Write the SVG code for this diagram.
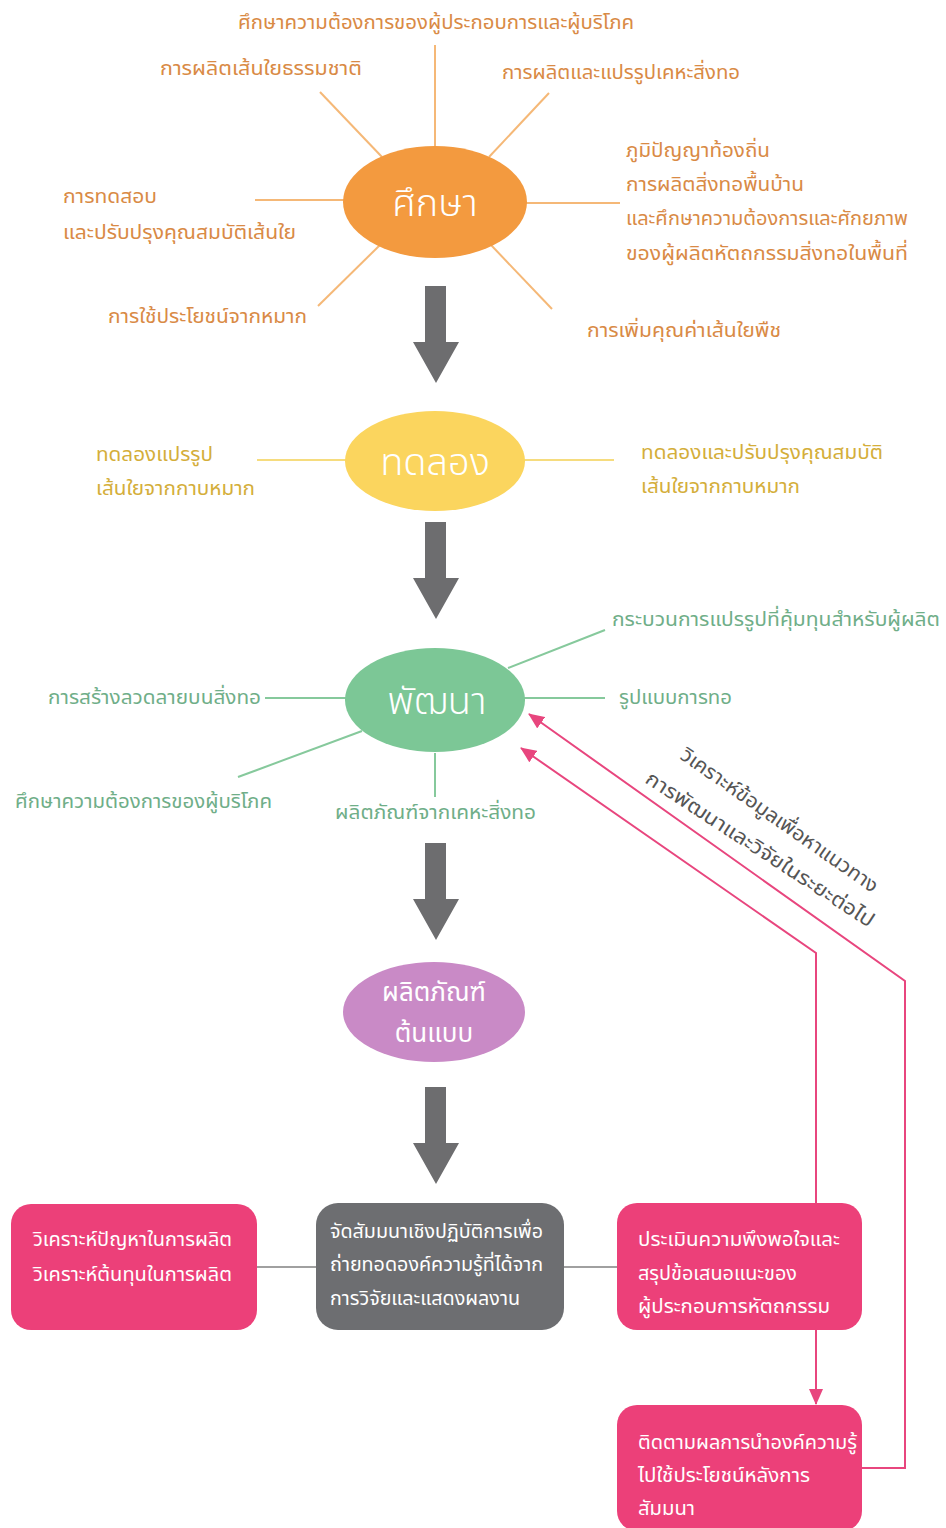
<svg xmlns="http://www.w3.org/2000/svg" width="946" height="1528" viewBox="0 0 946 1528">
<defs>
<style>
text{font-family:"Noto Sans Thai","Noto Sans","DejaVu Sans",sans-serif;}
.o{fill:#D98A45;font-size:20px;}
.y{fill:#D4AE3A;font-size:20px;}
.g{fill:#6FAE88;font-size:20px;}
.w{fill:#ffffff;font-size:19px;}
.big{fill:#ffffff;font-size:38px;font-weight:300;}
.mid{fill:#ffffff;font-size:26px;}
.rot{fill:#555555;font-size:20px;}
.lo{stroke:#F5B877;stroke-width:2;fill:none;}
.ly{stroke:#F6DC7E;stroke-width:2;fill:none;}
.lg{stroke:#86C99C;stroke-width:2;fill:none;}
.lp{stroke:#E8467E;stroke-width:2;fill:none;}
.lgr{stroke:#A0A0A0;stroke-width:2;fill:none;}
.arr{fill:#6D6D6F;}
</style>
<marker id="pa" viewBox="0 0 16 14" refX="15" refY="7" markerWidth="16" markerHeight="14" markerUnits="userSpaceOnUse" orient="auto">
<path d="M0,0 L16,7 L0,14 Z" fill="#E8467E"/>
</marker>
</defs>
<rect width="946" height="1528" fill="#ffffff"/>

<g id="connectors">
<line class="lo" x1="435" y1="45" x2="435" y2="146"/>
<line class="lo" x1="320" y1="92" x2="382" y2="157"/>
<line class="lo" x1="549" y1="93" x2="489" y2="157"/>
<line class="lo" x1="255" y1="200" x2="344" y2="200"/>
<line class="lo" x1="526" y1="203" x2="620" y2="203"/>
<line class="lo" x1="380" y1="245" x2="318" y2="306"/>
<line class="lo" x1="491" y1="245" x2="552" y2="309"/>
<line class="ly" x1="257" y1="460" x2="346" y2="460"/>
<line class="ly" x1="524" y1="460" x2="614" y2="460"/>
<line class="lg" x1="508" y1="668" x2="605" y2="630"/>
<line class="lg" x1="265" y1="698" x2="346" y2="698"/>
<line class="lg" x1="524" y1="698" x2="605" y2="698"/>
<line class="lg" x1="362" y1="731" x2="238" y2="777"/>
<line class="lg" x1="435" y1="753" x2="435" y2="797"/>
<path class="arr" d="M425,286 H446 V342 H459 L436,383 L413,342 H425 Z"/>
<path class="arr" d="M425,522 H446 V578 H459 L436,619 L413,578 H425 Z"/>
<path class="arr" d="M425,843 H446 V899 H459 L436,940 L413,899 H425 Z"/>
<path class="arr" d="M425,1087 H446 V1143 H459 L436,1184 L413,1143 H425 Z"/>
<line class="lgr" x1="257" y1="1267" x2="317" y2="1267"/>
<line class="lgr" x1="563" y1="1267" x2="618" y2="1267"/>
<polyline class="lp" points="816,1204 816,953 521,748" marker-end="url(#pa)"/>
<polyline class="lp" points="862,1468 905,1468 905,981 529,714" marker-end="url(#pa)"/>
<line class="lp" x1="816" y1="1330" x2="816" y2="1404" marker-end="url(#pa)"/>
<text class="rot" transform="translate(679,758) rotate(35)" textLength="236" lengthAdjust="spacingAndGlyphs">วิเคราะห์ข้อมูลเพื่อหาแนวทาง</text>
<text class="rot" transform="translate(644,782) rotate(33)" textLength="268" lengthAdjust="spacingAndGlyphs">การพัฒนาและวิจัยในระยะต่อไป</text>
</g>

<g id="study">
<ellipse cx="435" cy="202" rx="92" ry="56" fill="#F39A3F"/>
<text class="big" x="435" y="216" text-anchor="middle">ศึกษา</text>
<text class="o" x="238" y="29" textLength="396" lengthAdjust="spacingAndGlyphs">ศึกษาความต้องการของผู้ประกอบการและผู้บริโภค</text>
<text class="o" x="160" y="75" textLength="202" lengthAdjust="spacingAndGlyphs">การผลิตเส้นใยธรรมชาติ</text>
<text class="o" x="502" y="79" textLength="238" lengthAdjust="spacingAndGlyphs">การผลิตและแปรรูปเคหะสิ่งทอ</text>
<text class="o" x="626" y="157" textLength="144" lengthAdjust="spacingAndGlyphs">ภูมิปัญญาท้องถิ่น</text>
<text class="o" x="626" y="191" textLength="178" lengthAdjust="spacingAndGlyphs">การผลิตสิ่งทอพื้นบ้าน</text>
<text class="o" x="626" y="225" textLength="282" lengthAdjust="spacingAndGlyphs">และศึกษาความต้องการและศักยภาพ</text>
<text class="o" x="626" y="260" textLength="282" lengthAdjust="spacingAndGlyphs">ของผู้ผลิตหัตถกรรมสิ่งทอในพื้นที่</text>
<text class="o" x="63" y="203" textLength="94" lengthAdjust="spacingAndGlyphs">การทดสอบ</text>
<text class="o" x="63" y="239" textLength="233" lengthAdjust="spacingAndGlyphs">และปรับปรุงคุณสมบัติเส้นใย</text>
<text class="o" x="108" y="323" textLength="199" lengthAdjust="spacingAndGlyphs">การใช้ประโยชน์จากหมาก</text>
<text class="o" x="587" y="337" textLength="194" lengthAdjust="spacingAndGlyphs">การเพิ่มคุณค่าเส้นใยพืช</text>
</g>

<g id="experiment">
<ellipse cx="435" cy="461" rx="90" ry="50" fill="#FBD55E"/>
<text class="big" x="435" y="475" text-anchor="middle">ทดลอง</text>
<text class="y" x="96" y="461" textLength="117" lengthAdjust="spacingAndGlyphs">ทดลองแปรรูป</text>
<text class="y" x="96" y="495" textLength="159" lengthAdjust="spacingAndGlyphs">เส้นใยจากกาบหมาก</text>
<text class="y" x="641" y="459" textLength="242" lengthAdjust="spacingAndGlyphs">ทดลองและปรับปรุงคุณสมบัติ</text>
<text class="y" x="641" y="493" textLength="159" lengthAdjust="spacingAndGlyphs">เส้นใยจากกาบหมาก</text>
</g>

<g id="develop">
<ellipse cx="435" cy="700" rx="90" ry="52" fill="#7CC796"/>
<text class="big" x="437" y="714" text-anchor="middle">พัฒนา</text>
<text class="g" x="612" y="626" textLength="328" lengthAdjust="spacingAndGlyphs">กระบวนการแปรรูปที่คุ้มทุนสำหรับผู้ผลิต</text>
<text class="g" x="48" y="704" textLength="213" lengthAdjust="spacingAndGlyphs">การสร้างลวดลายบนสิ่งทอ</text>
<text class="g" x="619" y="704" textLength="113" lengthAdjust="spacingAndGlyphs">รูปแบบการทอ</text>
<text class="g" x="15" y="808" textLength="257" lengthAdjust="spacingAndGlyphs">ศึกษาความต้องการของผู้บริโภค</text>
<text class="g" x="335" y="819" textLength="201" lengthAdjust="spacingAndGlyphs">ผลิตภัณฑ์จากเคหะสิ่งทอ</text>
</g>

<g id="prototype">
<ellipse cx="434" cy="1012" rx="91" ry="50" fill="#C98AC6"/>
<text class="mid" x="434" y="1001" text-anchor="middle">ผลิตภัณฑ์</text>
<text class="mid" x="434" y="1042" text-anchor="middle">ต้นแบบ</text>
</g>

<g id="analyze">
<rect x="11" y="1204" width="246" height="126" rx="20" fill="#EC4079"/>
<text class="w" x="33" y="1246" textLength="199" lengthAdjust="spacingAndGlyphs">วิเคราะห์ปัญหาในการผลิต</text>
<text class="w" x="33" y="1281" textLength="199" lengthAdjust="spacingAndGlyphs">วิเคราะห์ต้นทุนในการผลิต</text>
</g>

<g id="seminar">
<rect x="316" y="1203" width="248" height="127" rx="22" fill="#6D6E71"/>
<text class="w" x="330" y="1238" textLength="213" lengthAdjust="spacingAndGlyphs">จัดสัมมนาเชิงปฏิบัติการเพื่อ</text>
<text class="w" x="330" y="1271" textLength="213" lengthAdjust="spacingAndGlyphs">ถ่ายทอดองค์ความรู้ที่ได้จาก</text>
<text class="w" x="330" y="1305" textLength="190" lengthAdjust="spacingAndGlyphs">การวิจัยและแสดงผลงาน</text>
</g>

<g id="evaluate">
<rect x="617" y="1203" width="245" height="127" rx="20" fill="#EC4079"/>
<text class="w" x="638" y="1246" textLength="202" lengthAdjust="spacingAndGlyphs">ประเมินความพึงพอใจและ</text>
<text class="w" x="638" y="1280" textLength="159" lengthAdjust="spacingAndGlyphs">สรุปข้อเสนอแนะของ</text>
<text class="w" x="638" y="1313" textLength="192" lengthAdjust="spacingAndGlyphs">ผู้ประกอบการหัตถกรรม</text>
</g>

<g id="followup">
<rect x="617" y="1405" width="245" height="126" rx="20" fill="#EC4079"/>
<text class="w" x="638" y="1449" textLength="219" lengthAdjust="spacingAndGlyphs">ติดตามผลการนำองค์ความรู้</text>
<text class="w" x="638" y="1482" textLength="172" lengthAdjust="spacingAndGlyphs">ไปใช้ประโยชน์หลังการ</text>
<text class="w" x="638" y="1515" textLength="57" lengthAdjust="spacingAndGlyphs">สัมมนา</text>
</g>
</svg>
